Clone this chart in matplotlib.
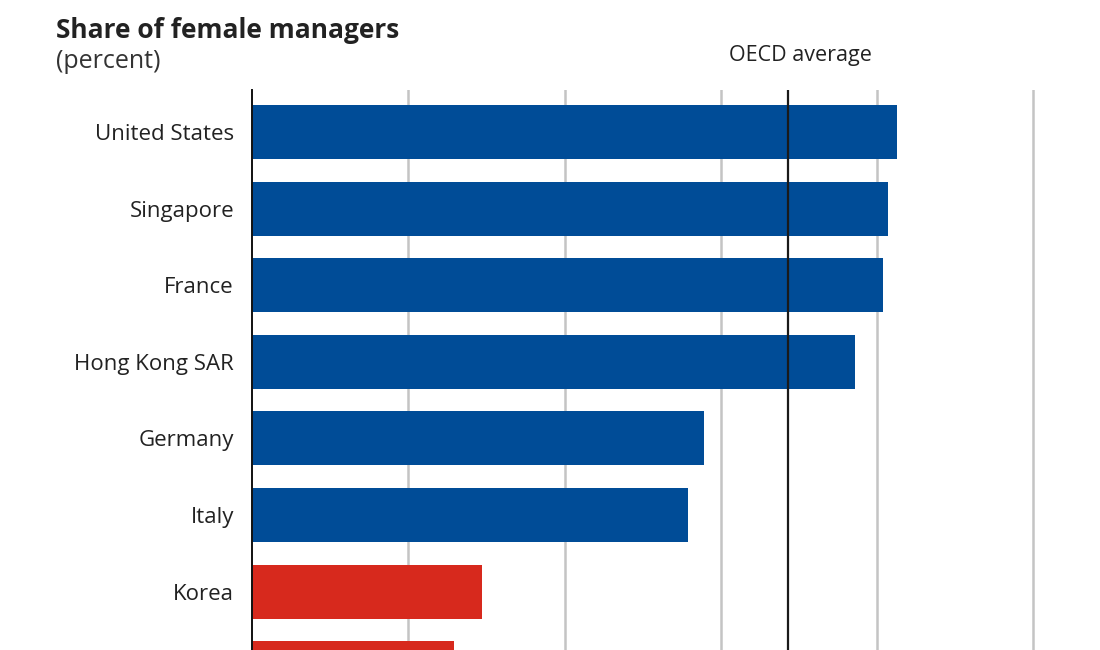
import matplotlib.pyplot as plt
import numpy as np

plt.rcParams['font.family'] = ['Open Sans', 'DejaVu Sans']

countries = ["United States", "Singapore", "France", "Hong Kong SAR",
             "Germany", "Italy", "Korea", "Japan"]
shares = [41.3, 40.7, 40.4, 38.6, 28.9, 27.9, 14.7, 12.9]
groups = ["high", "high", "high", "high", "high", "high", "low", "low"]
oecd_avg = 34.3
grid_ticks = [10, 20, 30, 40, 50]

colors = {"high": "#004C97", "low": "#D7291D"}

fig = plt.figure(figsize=(11, 6.5), dpi=100)
ax = fig.add_axes([252 / 1100, 0, 1 - 252 / 1100, 1 - 90 / 650])

y = np.arange(len(countries))
ax.barh(y, shares, height=0.706, color=[colors[g] for g in groups], zorder=3)

for t in grid_ticks:
    ax.axvline(t, color="#c4c4c4", lw=1.8, zorder=1)
ax.axvline(oecd_avg, color="#1a1a1a", lw=1.6, zorder=4)

# ticks first: set_yticks would otherwise widen the limits
ax.set_yticks(y)
ax.set_yticklabels(countries, fontsize=16, color="#222222")
ax.tick_params(axis="y", length=0, pad=13)
ax.set_xticks([])

ax.set_xlim(0, (1100 - 252) / 15.625)
ax.set_ylim((650 - 132) / 76.6, -42 / 76.6)

for s in ["top", "right", "bottom"]:
    ax.spines[s].set_visible(False)
ax.spines["left"].set_color("#111111")
ax.spines["left"].set_linewidth(1.4)
ax.spines["left"].set_zorder(5)

fig.text(56 / 1100, 1 - 30 / 650, "Share of female managers", fontsize=19,
         fontweight="bold", color="#222222", va="center", ha="left")
fig.text(56 / 1100, 1 - 61 / 650, "(percent)", fontsize=18,
         color="#333333", va="center", ha="left")
fig.text(800 / 1100, 1 - 56 / 650, "OECD average", fontsize=15.5,
         color="#222222", va="center", ha="center")

fig.savefig("out.png", dpi=100)
